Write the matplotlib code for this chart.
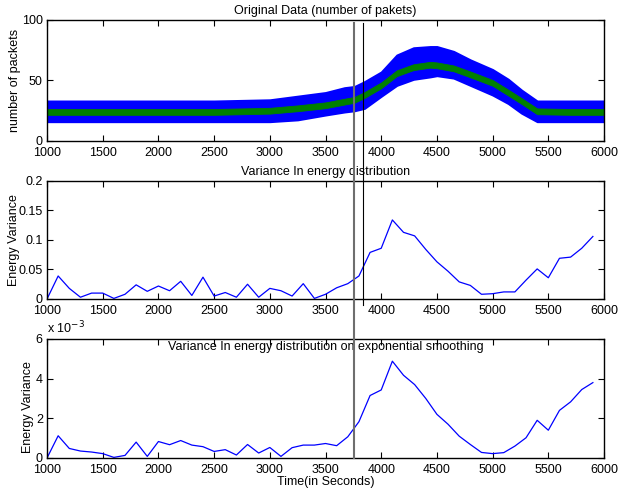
import matplotlib

matplotlib.use("Agg")

import matplotlib.pyplot as plt
import numpy as np
from matplotlib.lines import Line2D
from matplotlib.ticker import FuncFormatter
from matplotlib.transforms import blended_transform_factory

plt.rcParams.update(
    {
        "font.family": ["Liberation Sans", "DejaVu Sans"],
        "font.size": 9,
        "axes.linewidth": 1.0,
        "xtick.direction": "in",
        "ytick.direction": "in",
        "xtick.top": True,
        "ytick.right": True,
        "xtick.major.size": 4,
        "ytick.major.size": 4,
        "xtick.major.pad": 4.5,
        "ytick.major.pad": 3,
    }
)

# original packet counts, read as envelopes of the noisy trace
env_time = [1000, 1500, 2000, 2500, 3000, 3250, 3500, 3670, 3760, 3850, 4000,
            4140, 4290, 4440, 4500, 4650, 4800, 5000, 5140, 5260, 5400, 5700, 6000]
pkt_upper = [33, 33, 33, 33, 34, 37, 40, 44, 45, 49, 57,
             71, 77, 78, 78, 74, 67, 59, 51, 42, 33, 33, 33]
pkt_lower = [16, 16, 16, 16, 16, 17.5, 21.5, 24, 25, 27, 37,
             46, 51, 53, 54, 52, 46, 38, 31, 23, 16, 16, 16]
pkt_smooth = [24, 24, 24, 24, 25, 27, 29.5, 32.5, 34, 38, 46,
              56, 61, 63, 62.5, 60, 55, 48, 40, 33, 24.5, 24, 24]

# windowed energy variance
win_time = list(range(1000, 6000, 100))
energy_var = [0.000, 0.039, 0.018, 0.003, 0.010, 0.010, 0.001, 0.008, 0.024, 0.013,
              0.022, 0.014, 0.030, 0.006, 0.037, 0.005, 0.011, 0.003, 0.025, 0.003,
              0.018, 0.014, 0.005, 0.026, 0.001, 0.008, 0.019, 0.026, 0.039, 0.079,
              0.086, 0.134, 0.113, 0.107, 0.084, 0.063, 0.047, 0.029, 0.023, 0.008,
              0.009, 0.012, 0.012, 0.032, 0.051, 0.036, 0.069, 0.071, 0.086, 0.106]
# after exponential smoothing (units of 1e-3)
energy_var_smooth = [0.00, 1.12, 0.48, 0.35, 0.30, 0.22, 0.03, 0.13, 0.80, 0.08,
                     0.83, 0.67, 0.88, 0.65, 0.57, 0.33, 0.42, 0.15, 0.68, 0.25,
                     0.53, 0.08, 0.52, 0.65, 0.65, 0.73, 0.62, 1.07, 1.83, 3.15,
                     3.43, 4.88, 4.17, 3.70, 3.00, 2.20, 1.70, 1.10, 0.68, 0.28,
                     0.22, 0.27, 0.60, 1.02, 1.90, 1.40, 2.40, 2.83, 3.45, 3.80]

change_a = 3760
change_b = 3840

xticks = list(range(1000, 6001, 500))

fig = plt.figure(figsize=(6.22, 4.88), dpi=100)
left, width = 0.0756, 0.8955
ax1 = fig.add_axes([left, 0.7111, width, 0.2480])
ax2 = fig.add_axes([left, 0.3873, width, 0.2418])
ax3 = fig.add_axes([left, 0.0615, width, 0.2439])

ax1.fill_between(env_time, pkt_lower, pkt_upper, color="#0000ff", lw=1.5)
sm = np.array(pkt_smooth)
ax1.fill_between(env_time, sm - 2.4, sm + 2.4, color="#008000", lw=0.6)
ax1.set_xlim(1000, 6000)
ax1.set_ylim(0, 100)
ax1.set_yticks([0, 50, 100])
ax1.set_title("Original Data (number of pakets)", fontsize=9, pad=4)
ax1.set_ylabel("number of packets")
ax1.yaxis.set_label_coords(-0.047, 0.5)

ax2.plot(win_time, energy_var, color="#0000ff", lw=0.9)
ax2.set_xlim(1000, 6000)
ax2.set_ylim(0, 0.2)
ax2.set_yticks([0, 0.05, 0.1, 0.15, 0.2])
ax2.set_yticklabels(["0", "0.05", "0.1", "0.15", "0.2"])
ax2.set_title("Variance In energy distribution", fontsize=9, pad=4)
ax2.set_ylabel("Energy Variance")
ax2.yaxis.set_label_coords(-0.048, 0.5)

ax3.plot(win_time, np.array(energy_var_smooth) * 1e-3, color="#0000ff", lw=0.9)
ax3.set_xlim(1000, 6000)
ax3.set_ylim(0, 0.006)
ax3.set_yticks([0, 0.002, 0.004, 0.006])
ax3.yaxis.set_major_formatter(FuncFormatter(lambda v, p: f"{v * 1e3:g}"))
ax3.text(0.0, 1.02, r"x 10$^{-3}$", transform=ax3.transAxes,
         ha="left", va="bottom", fontsize=9)
ax3.text(0.5, 0.93, "Variance In energy distribution on exponential smoothing",
         transform=ax3.transAxes, ha="center", va="center", fontsize=9)
ax3.set_ylabel("Energy Variance")
ax3.yaxis.set_label_coords(-0.023, 0.43)
ax3.set_xlabel("Time(in Seconds)", labelpad=0)

for ax in (ax1, ax2, ax3):
    ax.set_xticks(xticks)

# change markers drawn across the panels
trans = blended_transform_factory(ax1.transData, fig.transFigure)
fig.add_artist(Line2D([change_a, change_a], [0.0615, 0.953], transform=trans,
                      color="#6e6e6e", lw=1.5))
fig.add_artist(Line2D([change_b, change_b], [0.375, 0.953], transform=trans,
                      color="black", lw=0.8))

fig.savefig("out.png", dpi=100)
plt.close(fig)
